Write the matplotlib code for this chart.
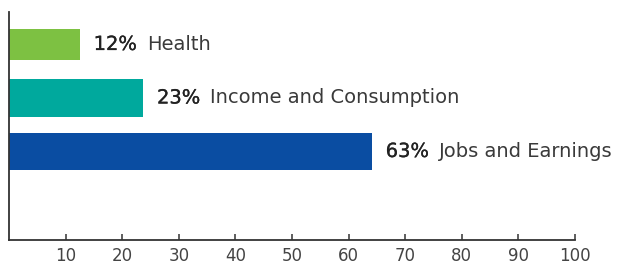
import matplotlib
matplotlib.use('Agg')
import matplotlib.pyplot as plt
import matplotlib.patheffects as pe

# data
categories = ['Health', 'Income and Consumption', 'Jobs and Earnings']
values = [12.5, 23.7, 64.1]
pct_labels = ['12%', '23%', '63%']
colors = ['#7DC142', '#00A99D', '#0A4DA2']
bar_heights = [0.58, 0.71, 0.69]
ticks = [10, 20, 30, 40, 50, 60, 70, 80, 90, 100]

plt.rcParams['font.family'] = ['DejaVu Sans']

W, H = 622, 266
fig = plt.figure(figsize=(W / 100, H / 100), dpi=100)
ax = fig.add_axes([9 / W, 26 / H, 566 / W, 228 / H])

ypos = list(range(len(categories)))
ax.barh(ypos, values, height=bar_heights, color=colors)

# thin stroke on the percentages, like a medium weight
medium = [pe.withStroke(linewidth=0.2, foreground='#222222')]
for y, v, pct, name in zip(ypos, values, pct_labels, categories):
    t = ax.annotate(pct, xy=(v, y), xytext=(10, 0), textcoords='offset points',
                    va='center', ha='left', fontsize=14, color='#222222',
                    path_effects=medium)
    ax.annotate(name, xy=(1, 0), xycoords=t, xytext=(7, 0),
                textcoords='offset points', va='bottom', ha='left',
                fontsize=14, color='#3a3a3a')

ax.set_xlim(0, 100)
ax.set_ylim(3.654, -0.607)
ax.set_xticks(ticks)
ax.set_yticks([])
ax.tick_params(axis='x', direction='in', length=4, width=1.1, color='#333333',
               labelsize=12, labelcolor='#444444', pad=5)
for side in ['top', 'right']:
    ax.spines[side].set_visible(False)
for side in ['left', 'bottom']:
    ax.spines[side].set_linewidth(1.3)
    ax.spines[side].set_color('#333333')

fig.savefig('out.png', dpi=100)
